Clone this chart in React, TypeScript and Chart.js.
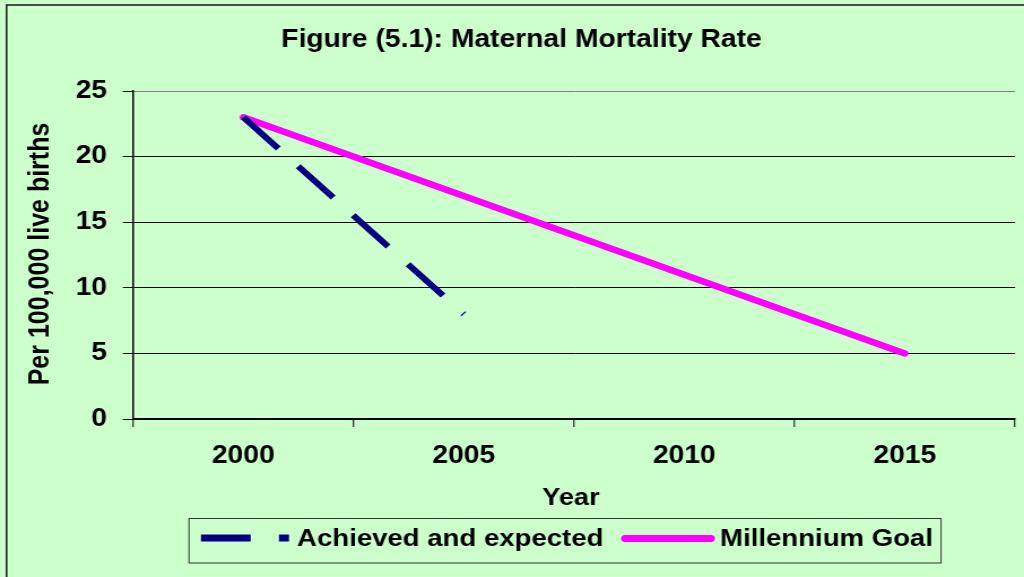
import React, { useEffect, useRef } from "react";
import { Chart, registerables } from "chart.js";

Chart.register(...registerables);

const categories = ["2000", "2005", "2010", "2015"];
const achievedValues = [23, 8, null, null];
const goalValues = [23, null, null, 5];
const yMin = 0;
const yMax = 25;
const yStep = 5;
const chartTitle = "Figure (5.1): Maternal Mortality Rate";
const yAxisTitle = "Per 100,000 live births";
const xAxisTitle = "Year";
const seriesNames = ["Achieved and expected", "Millennium Goal"];

const W = 906; // logical width, stretched to 1024 via CSS
const H = 577;
const FONT = '"Liberation Sans", Arial, sans-serif';
const NAVY = "#000080";
const PINK = "#FF00FF";

const decorPlugin = {
  id: "decor",
  beforeDraw(chart: any) {
    const ctx = chart.ctx;
    ctx.save();
    ctx.fillStyle = "#CCFFCC";
    ctx.fillRect(0, 0, chart.width, chart.height);
    ctx.strokeStyle = "#222";
    ctx.lineWidth = 1.6;
    ctx.strokeRect(5.8, 5, chart.width + 20, chart.height + 20);
    ctx.restore();
  },
  afterDraw(chart: any) {
    const ctx = chart.ctx;
    ctx.save();
    ctx.fillStyle = "#000";
    // title
    ctx.font = `bold 25px ${FONT}`;
    ctx.textAlign = "center";
    ctx.textBaseline = "alphabetic";
    ctx.fillText(chartTitle, 461.4, 46.7);
    // x title
    ctx.font = `bold 24px ${FONT}`;
    ctx.fillText(xAxisTitle, 505.2, 505);
    // y title
    ctx.save();
    ctx.translate(36.5, 254);
    ctx.rotate(-Math.PI / 2);
    ctx.font = `bold 25px ${FONT}`;
    ctx.textBaseline = "middle";
    ctx.fillText(yAxisTitle, 0, 0);
    ctx.restore();

    // legend
    const ds = chart.data.datasets;
    ctx.strokeStyle = "#333";
    ctx.lineWidth = 1;
    ctx.strokeRect(167.2, 518.5, 665.4, 44.5);
    const ly = 538;
    // series 1 sample
    ctx.save();
    ctx.strokeStyle = ds[0].borderColor;
    ctx.lineWidth = 7;
    ctx.lineCap = "butt";
    ctx.setLineDash([44, 25]);
    ctx.beginPath();
    ctx.moveTo(177.8, ly);
    ctx.lineTo(255.7, ly);
    ctx.stroke();
    ctx.restore();
    ctx.font = `bold 24.4px ${FONT}`;
    ctx.textAlign = "left";
    ctx.textBaseline = "alphabetic";
    ctx.fillText(ds[0].label, 262.8, 546);
    // series 2 sample
    ctx.save();
    ctx.strokeStyle = ds[1].borderColor;
    ctx.lineWidth = 7;
    ctx.lineCap = "round";
    ctx.beginPath();
    ctx.moveTo(553, ly + 0.5);
    ctx.lineTo(629, ly + 0.5);
    ctx.stroke();
    ctx.restore();
    ctx.fillText(ds[1].label, 637.1, 546);
    ctx.restore();
  },
};

export default function App() {
  const canvasRef = useRef<HTMLCanvasElement | null>(null);

  useEffect(() => {
    const canvas = canvasRef.current;
    if (!canvas) return;
    const chart = new Chart(canvas, {
      type: "line",
      data: {
        labels: categories,
        datasets: [
          {
            label: seriesNames[0],
            data: achievedValues,
            borderColor: NAVY,
            backgroundColor: NAVY,
            borderWidth: 6,
            borderDash: [44, 25],
            borderCapStyle: "butt",
            pointRadius: 0,
            tension: 0,
            spanGaps: false,
          },
          {
            label: seriesNames[1],
            data: goalValues,
            borderColor: PINK,
            backgroundColor: PINK,
            borderWidth: 6.5,
            borderCapStyle: "round",
            borderJoinStyle: "round",
            pointRadius: 0,
            tension: 0,
            spanGaps: true,
          },
        ],
      },
      options: {
        responsive: false,
        maintainAspectRatio: false,
        animation: false,
        devicePixelRatio: 1,
        layout: { padding: { top: 91, right: 7.9, bottom: 0, left: 0 } },
        plugins: {
          legend: { display: false },
          title: { display: false },
          tooltip: { enabled: false },
        },
        scales: {
          x: {
            type: "category",
            offset: true,
            afterFit: (scale: any) => {
              scale.height = H - 419;
            },
            grid: {
              offset: true,
              drawOnChartArea: true,
              color: (c: any) => (c.index === categories.length ? "#808080" : "rgba(0,0,0,0)"),
              lineWidth: 1.5,
              drawTicks: true,
              tickLength: 8,
              tickColor: "#000",
              tickWidth: 1,
            },
            border: { display: true, color: "#000", width: 1.5 },
            ticks: {
              color: "#000",
              font: { family: FONT, size: 25, weight: "bold" },
              padding: 14,
              maxRotation: 0,
              autoSkip: false,
            },
          },
          y: {
            min: yMin,
            max: yMax,
            afterFit: (scale: any) => {
              scale.width = 117.7;
            },
            grid: {
              color: (c: any) => (c.tick && c.tick.value === yMax ? "#808080" : "#000"),
              lineWidth: 1,
              drawTicks: true,
              tickLength: 9,
              tickColor: "#000",
            },
            border: { display: true, color: "#000", width: 1.5 },
            ticks: {
              stepSize: yStep,
              color: "#000",
              font: { family: FONT, size: 25, weight: "bold" },
              padding: 14,
            },
          },
        },
      },
      plugins: [decorPlugin],
    } as any);
    return () => chart.destroy();
  }, []);

  return (
    <div style={{ position: "absolute", left: 0, top: 0, width: 1024, height: H, overflow: "hidden" }}>
      <canvas
        ref={canvasRef}
        width={W}
        height={H}
        style={{ width: "1024px", height: `${H}px`, display: "block" }}
      />
    </div>
  );
}
